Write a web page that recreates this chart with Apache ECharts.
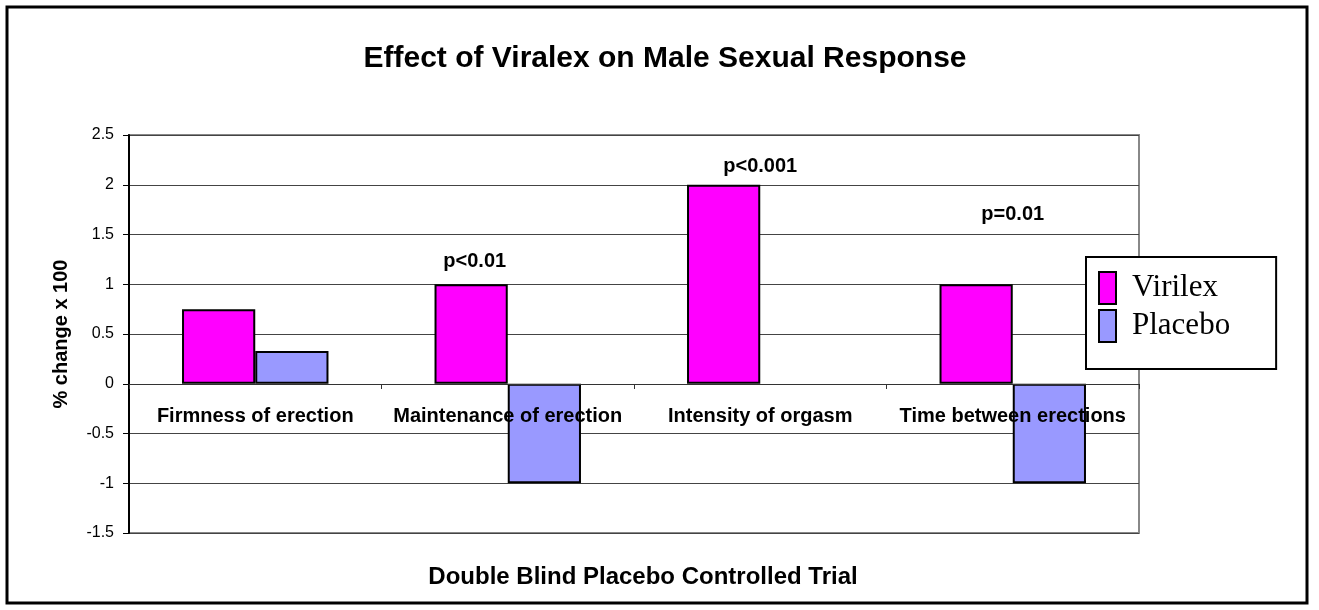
<!DOCTYPE html>
<html lang="en">
<head>
    <meta charset="utf-8">
    <title>Viralex</title>
    <script src="https://cdn.jsdelivr.net/npm/echarts@6/dist/echarts.min.js"></script>
    <style>
        html, body { margin: 0; padding: 0; background: #fff; }
        #main { width: 1319px; height: 610px; }
    </style>
</head>
<body>
<div id="main"></div>
<script type="text/javascript">
    const categories = ['Firmness of erection', 'Maintenance of erection', 'Intensity of orgasm', 'Time between erections'];
    const virilex = [0.75, 1, 2, 1];
    const placebo = [0.33, -1, null, -1];
    const pTexts = ['p<0.01', 'p<0.001', 'p=0.01'];
    const pCats = [1, 2, 3];
    const pValues = [1.23, 2.18, 1.7];
    const yTicks = { min: -1.5, max: 2.5, step: 0.5 };

    const chart = echarts.init(document.getElementById('main'));
    // small shifts so the p labels sit where the original put them
    const pOffsets = [[-33, 0], [0, 0], [0, 0]];

    const option = {
        animation: false,
        backgroundColor: '#fff',
        title: [{
            text: 'Effect of Viralex on Male Sexual Response',
            left: 660, top: 39, textAlign: 'center',
            textStyle: { fontFamily: 'Liberation Sans', fontSize: 30, fontWeight: 'bold', color: '#000' }
        }, {
            text: 'Double Blind Placebo Controlled Trial',
            left: 638, top: 560, textAlign: 'center',
            textStyle: { fontFamily: 'Liberation Sans', fontSize: 24, fontWeight: 'bold', color: '#000' }
        }],
        graphic: [{
            type: 'rect',
            shape: { x: 7, y: 7, width: 1300, height: 596 },
            style: { fill: 'none', stroke: '#000', lineWidth: 3 },
            z: 100
        }],
        legend: {
            data: ['Virilex', 'Placebo'],
            orient: 'vertical',
            left: 1086, top: 257,
            padding: [14, 46, 26, 12],
            backgroundColor: '#fff',
            borderColor: '#000',
            borderWidth: 2,
            itemWidth: 17, itemHeight: 32, itemGap: 4,
            icon: 'rect',
            textStyle: { fontFamily: 'Liberation Serif', fontSize: 31, color: '#000', padding: [0, 0, 0, 11] }
        },
        grid: {
            left: 129, top: 135, right: 180, bottom: 77,
            show: true, borderColor: '#888', borderWidth: 2
        },
        xAxis: {
            type: 'category',
            data: categories,
            z: 10,
            // the category axis sits on the zero line, 149px above the grid bottom
            offset: -149,
            axisLine: { onZero: false, lineStyle: { color: '#333', width: 1 } },
            axisTick: { show: true, inside: false, length: 5, lineStyle: { color: '#333' } },
            axisLabel: {
                margin: 22, interval: 0,
                fontFamily: 'Liberation Sans', fontSize: 20, fontWeight: 'bold', color: '#000'
            },
            splitLine: { show: false }
        },
        yAxis: {
            type: 'value',
            min: yTicks.min, max: yTicks.max, interval: yTicks.step,
            name: '% change x 100',
            nameLocation: 'middle',
            nameGap: 58,
            nameTextStyle: { fontFamily: 'Liberation Sans', fontSize: 20, fontWeight: 'bold', color: '#000' },
            axisLine: { show: true, lineStyle: { color: '#000', width: 2 } },
            axisTick: { show: true, length: 6, lineStyle: { color: '#000' } },
            axisLabel: { fontFamily: 'Liberation Sans', fontSize: 16, color: '#000', margin: 15 },
            splitLine: { show: true, lineStyle: { color: '#444', width: 1 } }
        },
        series: [{
            name: 'Virilex',
            type: 'bar',
            data: virilex,
            barGap: '0%',
            barCategoryGap: '42%',
            itemStyle: { color: '#FF00FF', borderColor: '#000', borderWidth: 2 }
        }, {
            name: 'Placebo',
            type: 'bar',
            data: placebo,
            itemStyle: { color: '#9999FF', borderColor: '#000', borderWidth: 2 }
        }, {
            name: 'p',
            type: 'scatter',
            symbolSize: 0,
            silent: true,
            itemStyle: { opacity: 1 },
            data: pTexts.map(function (t, i) {
                return {
                    value: [pCats[i], pValues[i]],
                    label: {
                        show: true, position: 'inside', formatter: t, offset: pOffsets[i],
                        fontFamily: 'Liberation Sans', fontSize: 20, fontWeight: 'bold', color: '#000'
                    }
                };
            })
        }]
    };
    chart.setOption(option);
</script>
</body>
</html>
